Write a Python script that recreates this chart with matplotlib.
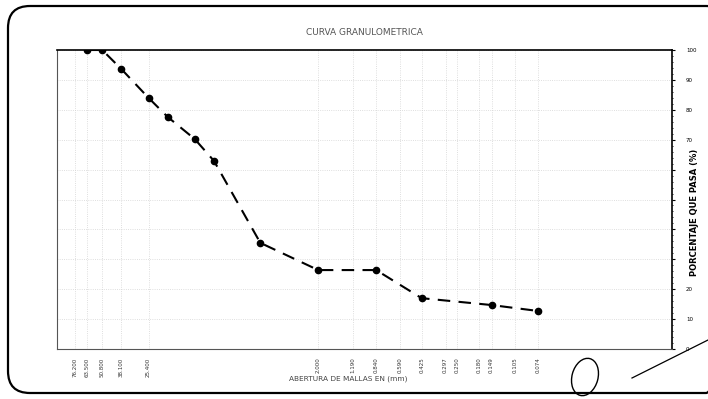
import matplotlib
matplotlib.use('Agg')
import matplotlib.pyplot as plt
from matplotlib.patches import FancyBboxPatch, Ellipse
import numpy as np

# sieve openings (mm) and percent passing
SIZES = [63.5, 50.8, 38.1, 25.4, 19.05, 12.7, 9.525, 4.76, 2.0, 0.84, 0.425, 0.149, 0.074]
PASSING = [100, 100, 93.6, 84.0, 77.6, 70.2, 62.9, 35.5, 26.4, 26.4, 17.0, 14.7, 12.7]

TICK_SIZES = [76.2, 63.5, 50.8, 38.1, 25.4, 2.0, 1.19, 0.84, 0.59, 0.425,
              0.297, 0.25, 0.18, 0.149, 0.105, 0.074]
Y_TICKS = list(range(0, 101, 10))
# the axis title covers these labels on the sheet
Y_HIDDEN = [30, 40, 50, 60]

TITLE = 'CURVA GRANULOMETRICA'
XLABEL = 'ABERTURA DE MALLAS EN (mm)'
YLABEL = 'PORCENTAJE QUE PASA (%)'

W, H = 708, 399
fig = plt.figure(figsize=(W / 100, H / 100), dpi=100)
fig.patch.set_facecolor('white')

# scanned page frame
bg = fig.add_axes([0, 0, 1, 1])
bg.set_xlim(0, W)
bg.set_ylim(H, 0)
bg.axis('off')
bg.add_patch(FancyBboxPatch((8, 6), 720, 387,
                            boxstyle='round,pad=0,rounding_size=22',
                            fill=False, ec='black', lw=1.6))
# signature scribble
bg.add_patch(Ellipse((585, 377), 26, 38, angle=15, fill=False, ec='black', lw=1.0))
bg.plot([632, 708], [378, 340], color='black', lw=0.9)

ax = fig.add_axes([57 / W, 1 - 349 / H, (672 - 57) / W, (349 - 50) / H])
ax.set_xscale('log')
ax.set_xlim(100, 0.01)
ax.set_ylim(0, 100)

ax.plot(SIZES, PASSING, color='black', lw=1.5, ls=(0, (6, 4)),
        marker='o', ms=4.5, mfc='black', mec='black')

ax.grid(True, which='major', color='#d4d4d4', ls=':', lw=0.6)

ax.set_xticks(TICK_SIZES)
ax.set_xticklabels([f'{v:.3f}' for v in TICK_SIZES], rotation=90,
                   fontsize=4, color='#333333')
ax.xaxis.set_minor_locator(matplotlib.ticker.NullLocator())
ax.tick_params(axis='x', which='both', length=0, pad=6)

ax.yaxis.tick_right()
ax.yaxis.set_label_position('right')
ax.set_yticks(Y_TICKS)
ax.set_yticklabels(['' if v in Y_HIDDEN else str(v) for v in Y_TICKS], fontsize=4)
ax.set_yticks(np.arange(0, 101, 2), minor=True)
ax.tick_params(axis='y', which='major', length=2, pad=8)
ax.tick_params(axis='y', which='minor', length=1)

for side in ['left', 'bottom']:
    ax.spines[side].set_color('#555555')
    ax.spines[side].set_linewidth(0.8)
ax.spines['top'].set_linewidth(1.2)
ax.spines['right'].set_linewidth(1.2)

ax.set_ylabel(YLABEL, fontsize=6, fontweight='bold')
ax.yaxis.set_label_coords(1.03, 0.458)
ax.set_xlabel(XLABEL, fontsize=5.3, color='#444444')
ax.xaxis.set_label_coords(0.473, -0.09)
ax.set_title(TITLE, fontsize=6.5, color='#555555', pad=11)

fig.savefig('out.png', dpi=100, facecolor='white')
